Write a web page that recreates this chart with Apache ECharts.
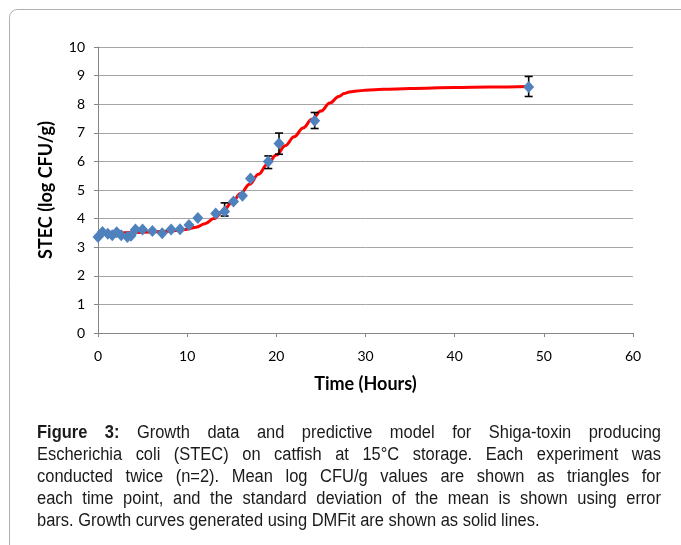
<!DOCTYPE html>
<html>
<head>
<meta charset="utf-8">
<script src="https://cdn.jsdelivr.net/npm/echarts@6/dist/echarts.min.js"></script>
<style>
html,body{margin:0;padding:0;background:#fff;}
#chart{width:681px;height:545px;}
</style>
</head>
<body>
<div id="chart"></div>
<script>
// ---- data ----
const times = [0, 0.5, 1.1, 1.6, 2.1, 2.6, 3.3, 3.7, 4.2, 5.0, 6.1, 7.2, 8.2, 9.2, 10.2, 11.2, 13.2, 14.2, 15.2, 16.2, 17.1, 19.1, 20.3, 24.3, 48.3];
const stec = [3.36, 3.53, 3.47, 3.42, 3.52, 3.42, 3.36, 3.40, 3.62, 3.62, 3.57, 3.49, 3.62, 3.63, 3.78, 4.02, 4.18, 4.25, 4.60, 4.80, 5.40, 6.00, 6.63, 7.42, 8.60];

const errTimes = [14.2, 19.1, 20.3, 24.3, 48.3];
const errMeans = [4.32, 5.97, 6.62, 7.43, 8.62];
const errSD = [0.23, 0.22, 0.37, 0.28, 0.35];

const curveT = [0, 2, 4, 6, 8, 9, 10, 11, 12, 13, 14, 15, 16, 17, 18, 19, 20, 21, 22, 23, 24, 25, 26, 27, 27.6, 28.2, 29, 30, 32, 35, 40, 44, 48.3];
const curveY = [3.50, 3.50, 3.51, 3.53, 3.56, 3.59, 3.63, 3.70, 3.82, 4.00, 4.25, 4.55, 4.88, 5.20, 5.55, 5.90, 6.22, 6.55, 6.86, 7.17, 7.47, 7.76, 8.04, 8.27, 8.37, 8.43, 8.46, 8.49, 8.52, 8.55, 8.58, 8.60, 8.62];

const xTicks = [0, 10, 20, 30, 40, 50, 60];
const yTicks = [0, 1, 2, 3, 4, 5, 6, 7, 8, 9, 10];

const xTitle = 'Time (Hours)';
const yTitle = 'STEC (log CFU/g)';

const captionLines = [
  'Figure 3: Growth data and predictive model for Shiga-toxin producing',
  'Escherichia coli (STEC) on catfish at 15°C storage. Each experiment was',
  'conducted twice (n=2). Mean log CFU/g values are shown as triangles for',
  'each time point, and the standard deviation of the mean is shown using error',
  'bars. Growth curves generated using DMFit are shown as solid lines.'
];
const boldWords = ['Figure', '3:'];

// ---- build chart ----
const chart = echarts.init(document.getElementById('chart'), null, {renderer: 'canvas'});

const capFont = '18px "Liberation Sans", Arial, sans-serif';
const capFontBold = 'bold 18px "Liberation Sans", Arial, sans-serif';
const capScale = 0.915;
const cv = document.createElement('canvas').getContext('2d');
function measure(word, bold) { cv.font = bold ? capFontBold : capFont; return cv.measureText(word).width * capScale; }

const capLeft = 37, capRight = 661, capTop = 433, capStep = 22;
const captionGraphics = [];
captionLines.forEach((line, li) => {
  const words = line.split(' ');
  const boldCount = li === 0 ? boldWords.length : 0;
  const ws = words.map((w, i) => measure(w, i < boldCount));
  const total = ws.reduce((a, b) => a + b, 0);
  const justify = li < captionLines.length - 1;
  const gap = justify ? (capRight - capLeft - total) / (words.length - 1) : measure(' ', false);
  let x = capLeft;
  words.forEach((w, i) => {
    captionGraphics.push({
      type: 'text', x: x, y: capTop + li * capStep, scaleX: capScale, silent: true,
      style: {text: w, font: i < boldCount ? capFontBold : capFont, fill: '#1a1a1a', verticalAlign: 'middle'}
    });
    x += ws[i] + gap;
  });
});

const option = {
  animation: false,
  backgroundColor: '#ffffff',
  grid: {left: 98, right: 48, top: 47, bottom: 212, containLabel: false},
  xAxis: {
    type: 'value', min: xTicks[0], max: xTicks[xTicks.length - 1], interval: 10,
    name: xTitle, nameLocation: 'middle', nameGap: 42,
    nameTextStyle: {fontFamily: 'Lato', fontWeight: 'bold', fontSize: 18, color: '#000'},
    axisLine: {show: true, lineStyle: {color: '#868686', width: 1}},
    axisTick: {show: true, inside: false, length: 4, lineStyle: {color: '#868686'}},
    axisLabel: {margin: 16, fontFamily: 'Lato', fontSize: 14, color: '#000'},
    splitLine: {show: false}
  },
  yAxis: {
    type: 'value', min: yTicks[0], max: yTicks[yTicks.length - 1], interval: 1,
    name: yTitle, nameLocation: 'middle', nameGap: 43, nameRotate: 90,
    nameTextStyle: {fontFamily: 'Lato', fontWeight: 'bold', fontSize: 18, color: '#000'},
    axisLine: {show: true, lineStyle: {color: '#868686', width: 1}},
    axisTick: {show: true, inside: false, length: 4, lineStyle: {color: '#868686'}},
    axisLabel: {margin: 13, fontFamily: 'Lato', fontSize: 14, color: '#000'},
    splitLine: {show: true, lineStyle: {color: '#a6a6a6', width: 1}}
  },
  series: [
    {
      type: 'line', name: 'DMFit', data: curveT.map((t, i) => [t, curveY[i]]),
      smooth: 0.4, smoothMonotone: 'x', showSymbol: false, symbol: 'none',
      lineStyle: {color: '#ff0000', width: 3}, z: 2, clip: false
    },
    {
      type: 'custom', name: 'SD', z: 3, clip: false,
      data: errTimes.map((t, i) => [t, errMeans[i], errSD[i]]),
      renderItem: function (params, api) {
        const t = api.value(0), m = api.value(1), s = api.value(2);
        const lo = api.coord([t, m - s]);
        const hi = api.coord([t, m + s]);
        const hw = 4;
        const st = {stroke: '#000', lineWidth: 1.6};
        return {
          type: 'group',
          children: [
            {type: 'line', shape: {x1: lo[0], y1: lo[1], x2: hi[0], y2: hi[1]}, style: st},
            {type: 'line', shape: {x1: lo[0] - hw, y1: lo[1], x2: lo[0] + hw, y2: lo[1]}, style: st},
            {type: 'line', shape: {x1: hi[0] - hw, y1: hi[1], x2: hi[0] + hw, y2: hi[1]}, style: st}
          ]
        };
      }
    },
    {
      type: 'scatter', name: 'STEC', data: times.map((t, i) => [t, stec[i]]),
      symbol: 'diamond', symbolSize: [11, 12], clip: false, z: 4,
      itemStyle: {color: '#4f81bd', opacity: 1}
    }
  ],
  graphic: [
    {
      type: 'rect', silent: true, z: -1,
      shape: {x: 9.5, y: 9.5, width: 800, height: 800, r: 8},
      style: {fill: 'none', stroke: '#b0b0b0', lineWidth: 1}
    }
  ].concat(captionGraphics)
};
chart.setOption(option);
</script>
</body>
</html>
